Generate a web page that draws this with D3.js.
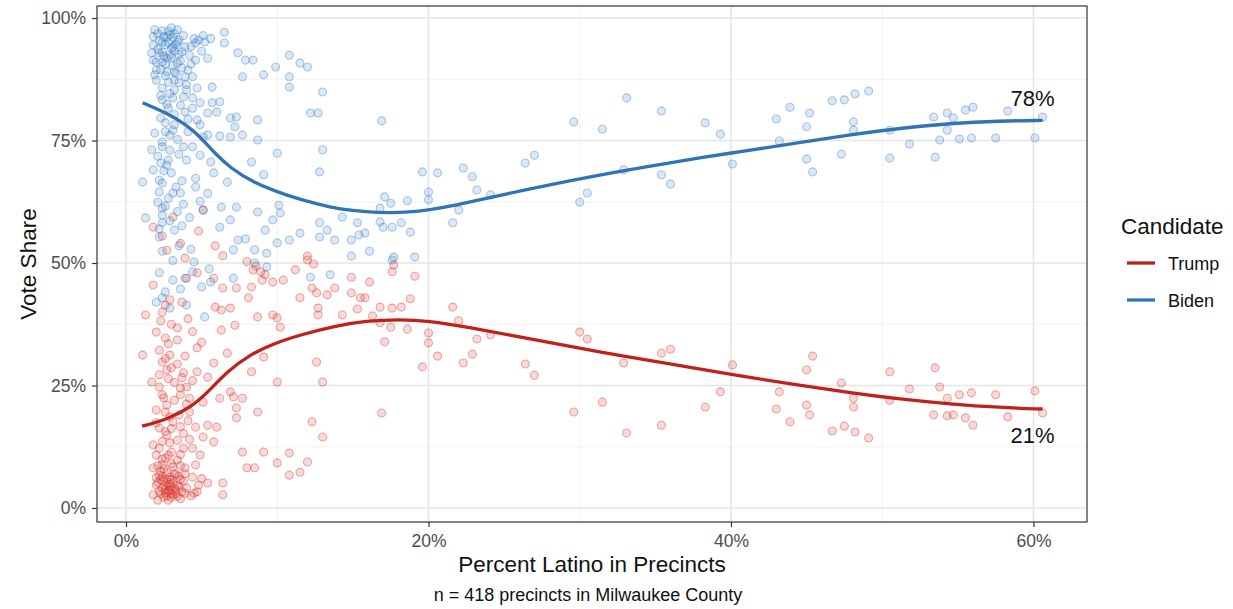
<!DOCTYPE html>
<html><head><meta charset="utf-8">
<script src="https://cdn.jsdelivr.net/npm/d3@7"></script>
<style>
body{margin:0;background:#fff;}
text{font-family:"Liberation Sans",Arial,Helvetica,sans-serif;}
</style>
</head><body>
<svg id="chart" width="1233" height="609"></svg>
<script>
// ---------- data ----------
const candidates = ["Trump", "Biden"];
const xTicks = [0, 20, 40, 60];
const xMinor = [10, 30, 50];
const yTicks = [0, 25, 50, 75, 100];
const yMinor = [12.5, 37.5, 62.5, 87.5];
const xTitle = "Percent Latino in Precincts";
const yTitle = "Vote Share";
const caption = "n = 418 precincts in Milwaukee County";
const legendTitle = "Candidate";

// [percent Latino, Biden vote share %]
const bidenPoints = [
[1.9,97.6],[3.0,98.0],[2.7,96.1],[2.4,95.1],[3.4,95.1],[4.8,95.5],[5.2,95.1],[4.6,94.9],[1.8,94.5],[3.1,94.1],[3.9,94.1],[6.5,97.1],[6.5,94.9],
[1.7,92.9],[2.2,92.9],[2.9,92.4],[3.7,93.1],[1.8,91.4],[2.4,91.0],[3.4,90.8],[4.6,91.4],[5.4,91.8],[7.4,92.9],[7.9,91.4],[8.4,91.4],[10.8,92.4],
[11.5,90.8],[12.0,90.0],[9.9,90.0],[9.1,88.4],[7.7,88.0],[2.0,89.4],[2.7,89.0],[3.2,89.0],[4.1,89.4],[2.0,87.3],[3.2,87.3],[3.9,88.0],[4.4,88.0],
[2.4,85.7],[3.2,85.3],[4.0,85.3],[4.7,85.7],[5.7,85.9],[10.8,88.0],[10.8,85.9],[13.0,84.9],[2.4,83.3],[3.1,83.7],[3.8,83.9],[4.4,83.7],[4.9,82.7],
[5.7,82.7],[6.2,82.9],[2.8,81.6],[4.4,81.6],[5.4,80.6],[6.0,80.8],[12.2,80.6],[12.7,80.6],[7.3,79.8],[6.9,79.6],[8.7,79.2],[2.6,78.6],[3.2,78.2],
[4.7,79.2],[4.9,78.2],[7.2,77.8],[7.7,76.1],[1.9,76.5],[2.9,76.1],[2.4,74.7],[3.1,77.1],[3.8,73.7],[4.4,73.7],[5.1,75.7],[5.4,76.1],[6.2,75.9],
[6.9,75.7],[8.7,75.1],[10.0,72.4],[13.0,73.1],[1.7,73.1],[2.4,73.7],[4.9,72.0],[2.8,71.0],[4.0,71.0],[5.6,70.6],[8.3,70.6],[12.8,68.6],[1.8,69.0],
[2.7,70.0],[5.8,68.4],[2.2,66.9],[2.4,66.3],[1.1,66.5],[4.6,67.3],[4.6,65.5],[6.7,66.5],[9.1,68.0],[2.2,64.5],[3.1,64.3],[3.6,64.3],[2.1,62.4],
[2.4,61.2],[5.1,60.8],[6.3,61.4],[7.3,61.4],[8.7,60.4],[10.1,61.8],[1.3,59.2],[2.4,59.8],[2.4,58.2],[6.2,57.3],[6.9,58.8],[9.7,58.8],[10.2,60.2],
[12.8,58.2],[2.2,55.3],[3.2,56.7],[7.4,54.7],[7.9,54.9],[9.2,56.7],[10.8,54.7],[11.5,56.1],[12.8,55.3],[13.3,56.7],[7.1,52.7],[8.5,52.7],[9.3,52.0],
[10.0,54.1],
[3.1,46.5],[3.9,46.9],[4.4,48.2],[5.0,45.1],[5.6,46.1],[2.6,44.1],[2.0,42.0],[2.4,42.9],[2.9,40.8],[4.0,41.4],[5.2,39.0],[8.5,50.0],[9.3,49.2],
[12.2,47.1],[13.5,47.6],[7.1,46.9],
[2.1,96.8],[2.5,96.2],[2.8,97.3],[3.2,96.8],[3.5,95.5],[2.6,94.6],[3.0,93.8],[2.1,93.6],[3.5,92.6],[2.7,91.8],[3.1,90.3],[2.3,89.5],[3.7,89.8],
[2.6,88.2],[3.5,86.8],[2.3,84.2],[4.2,92.4],[4.5,95.8],[5.0,93.2],[2.0,91.0],[1.9,88.4],[2.9,84.6],[3.9,80.8],[3.2,80.3],[2.3,79.6],[4.1,76.8],
[3.4,75.2],[2.1,71.8],[3.0,68.4],[2.5,68.8],[3.7,66.8],[2.8,63.2],[3.4,60.5],[2.9,58.6],[4.2,59.3],[3.5,53.5],[2.4,52.4],[4.3,52.8],[3.1,50.5],
[4.5,50.2],[5.5,48.8],[3.6,44.7],[2.2,48.0],
[2.2,95.4],[2.9,96.6],[3.3,94.6],[3.8,96.4],[2.4,93.0],[3.0,92.0],[3.6,91.3],[2.6,90.6],[3.3,88.6],[2.8,86.9],[4.3,90.6],[4.0,86.4],[3.4,97.6],
[2.4,97.4],[5.6,95.8],[5.1,96.4],[4.3,94.2],[1.8,96.2],[2.7,82.4],[3.6,82.2],[4.1,79.4],[2.6,76.8],[3.5,72.2],[2.9,73.0],[2.3,70.4],[3.3,65.5],
[2.6,61.6],[3.8,62.0],[2.2,57.0],[3.7,57.6],[5.4,64.2],[4.9,62.6],[2.8,95.0],[3.1,96.0],[2.5,92.2],[3.2,93.3],
[16.9,79.0],[29.6,78.8],[31.5,77.3],[33.1,83.7],[35.4,81.0],[19.6,68.6],[20.6,68.4],[22.3,69.4],[22.9,67.6],[23.2,64.9],[24.1,63.9],[26.4,70.4],
[27.0,72.0],[32.9,69.0],[35.4,68.0],[36.0,66.1],[30.0,62.4],[30.5,64.3],[21.6,58.2],[22.0,60.8],[20.0,64.5],[20.0,62.9],[18.6,62.7],[17.1,63.5],
[17.5,62.2],[16.8,61.2],[14.3,59.4],[15.3,58.2],[16.8,58.4],[17.0,57.3],[17.6,57.3],[18.2,58.2],[18.8,56.3],[13.8,54.7],[14.9,54.7],[15.4,55.7],
[15.8,56.1],[16.1,52.4],[14.9,51.4],[17.6,50.6],[17.7,51.2],[19.1,51.2],
[38.3,78.6],[39.3,76.3],[40.1,70.2],[43.0,79.4],[43.9,81.8],[43.2,74.9],[45.2,80.6],[45.0,77.8],[45.0,71.2],[45.4,68.6],[46.7,83.1],[47.5,83.3],
[48.2,84.5],[49.1,85.1],[48.1,78.8],[48.1,77.1],[47.3,72.2],[50.5,71.4],[50.5,77.1],[51.8,74.3],[53.4,79.8],[53.5,71.6],[53.8,75.1],[54.3,77.1],
[54.3,80.6],[54.7,79.6],[55.5,81.2],[56.0,81.8],[55.1,75.3],[55.9,75.5],[57.5,75.5],[58.3,81.0],[60.1,75.5],[60.6,79.8]
];

// [percent Latino, Trump vote share %]
const trumpPoints = [
[1.8,45.5],[4.0,46.9],[4.7,48.0],[5.8,46.9],[6.4,44.9],[7.3,44.9],[8.1,42.9],[8.3,45.1],[9.2,47.6],[8.4,48.6],[9.0,46.5],[9.7,46.1],[10.4,46.5],
[11.2,48.6],[12.0,50.6],[12.3,44.9],[12.6,43.9],[13.3,43.5],[11.5,42.9],[1.3,39.4],[2.4,40.0],[2.6,41.4],[5.9,41.0],[6.3,40.4],[6.9,40.8],[8.7,39.0],
[9.7,39.4],[10.0,38.8],[12.7,40.8],[12.7,39.4],[7.2,37.3],[6.3,36.3],[10.2,36.9],[2.0,35.9],[2.6,34.7],[3.4,34.3],[2.2,32.2],[2.9,31.2],[2.4,29.8],
[4.7,32.7],[6.7,31.6],[1.1,31.2],[2.7,28.2],[3.0,28.6],[9.1,30.8],[12.6,29.8],[5.8,29.6],[8.3,27.8],[10.0,25.7],[13.0,25.7],[1.7,25.7],[2.2,24.7],
[3.8,27.6],[4.7,27.8],[5.4,26.7],[3.6,24.5],[4.0,24.7],[2.4,23.1],[3.6,23.1],[4.2,22.4],[5.1,21.6],[6.2,22.4],[7.1,22.7],[7.7,22.4],[6.9,23.7],
[8.7,19.6],[7.3,20.4],[2.0,20.0],[2.7,21.0],[4.2,19.6],[4.6,16.5],[5.4,16.9],[6.0,16.5],[7.3,18.4],[3.1,17.6],[2.2,16.3],[2.7,14.9],[12.3,17.6],
[13.0,14.5],[5.1,14.5],[5.8,13.5],[1.8,12.9],[2.9,13.3],[3.8,12.2],[4.4,12.2],[7.7,11.4],[9.1,11.4],[10.8,11.2],[2.0,10.8],[2.6,10.2],[3.4,9.8],
[4.9,10.8],[1.8,8.2],[2.4,8.8],[3.1,8.4],[3.9,8.2],[2.2,6.7],[2.9,6.3],[4.4,6.3],[8.0,8.2],[8.5,8.2],[10.0,9.2],[10.8,6.7],[11.5,7.3],[12.0,9.4],
[6.4,5.1],[2.0,4.7],[2.4,4.1],[2.9,3.7],[3.4,4.7],[4.0,4.1],[4.8,4.7],[5.4,5.1],[1.8,2.7],[2.6,3.1],[3.1,2.7],[3.7,3.3],[6.4,2.7],[4.7,3.3],
[2.8,1.6],[2.1,1.6],
[2.3,5.8],[2.6,4.6],[2.9,5.2],[3.2,4.0],[2.5,2.2],[3.0,3.0],[3.4,2.4],[2.2,3.4],[3.6,5.8],[2.0,6.2],[2.7,7.2],[3.3,6.8],[3.9,7.0],[2.4,10.0],
[3.0,11.4],[2.2,12.2],[3.4,13.8],[2.6,15.6],[3.8,15.2],[4.2,14.0],[2.9,18.6],[3.5,19.0],[4.0,21.2],[2.5,22.5],[3.2,25.6],[2.8,26.4],[4.4,26.0],
[3.4,29.4],[2.6,30.5],[3.9,31.0],[4.4,36.0],[5.0,33.8],[3.0,37.5],[2.3,38.2],[4.5,3.0],[5.0,6.0],[4.6,8.8],[2.5,5.5],[2.8,4.8],[3.0,5.8],
[3.3,3.5],[2.7,2.5],[3.5,6.5],[2.3,7.5],[3.2,7.0],[2.6,3.8],[3.0,2.2],[3.8,5.5],[2.1,5.2],[3.6,1.9],[4.3,2.5],
[2.4,6.4],[2.7,5.9],[3.1,5.0],[2.9,4.3],[3.5,4.4],[2.3,2.9],[2.8,3.4],[3.3,2.9],[3.9,3.0],[2.5,8.0],[3.0,9.0],[3.6,8.6],[2.1,8.6],[2.8,10.8],
[3.6,10.9],[2.4,13.6],[3.0,16.2],[2.0,17.4],[3.6,16.6],[4.1,17.8],[2.6,19.6],[3.2,22.0],[2.2,27.2],[3.7,26.6],[2.8,33.5],[3.4,36.8],[4.1,38.6],
[2.9,42.5],[3.7,42.0],
[1.8,57.3],[2.4,55.5],[3.1,59.4],[3.6,54.0],[5.1,60.8],[4.8,56.5],[5.9,53.5],[2.7,52.6],[3.9,51.0],[6.4,51.5],[8.0,50.3],[8.6,49.4],[8.9,48.2],
[12.0,51.4],[12.4,49.8],
[16.9,19.4],[29.6,19.6],[31.5,21.6],[33.1,15.3],[35.4,16.9],[19.6,28.8],[20.6,31.0],[22.3,29.6],[22.9,31.4],[23.2,34.5],[24.1,35.3],[26.4,29.4],
[27.0,27.1],[32.9,29.6],[35.4,31.6],[36.0,32.4],[30.0,35.9],[30.5,34.5],[21.6,41.0],[22.0,38.2],[20.0,33.7],[20.0,35.7],[18.6,36.5],[17.1,33.9],
[17.5,36.9],[16.8,37.8],[14.3,39.4],[15.3,40.6],[16.8,41.0],[17.6,40.8],[18.2,41.0],[18.8,42.7],[13.8,44.9],[14.9,43.9],[15.8,42.9],[16.1,46.1],
[14.9,47.1],[17.6,48.2],[17.7,49.6],[19.1,47.3],[15.5,42.9],[16.3,39.2],
[38.3,20.6],[39.3,23.7],[40.1,29.2],[43.0,20.2],[43.9,17.6],[43.2,23.7],[45.2,19.0],[45.0,21.0],[45.0,28.2],[45.4,31.0],[46.7,15.7],[47.5,16.7],
[48.2,15.5],[49.1,14.3],[48.1,20.6],[48.1,22.4],[47.3,25.5],[50.5,27.8],[50.5,22.0],[51.8,24.3],[53.4,19.0],[53.5,28.6],[53.8,24.7],[54.3,22.4],
[54.3,18.8],[54.7,19.0],[55.5,18.4],[56.0,16.9],[55.1,23.1],[55.9,23.5],[57.5,23.1],[58.3,18.6],[60.1,23.9],[60.6,19.4]
];

// smoothed (loess) fit curves
const trumpFit = [
[1.06,16.7],[2.7,18.0],[4.4,20.8],[5.4,23.6],[6.7,27.9],[8.2,31.3],[9.7,33.5],[11.5,35.3],[13.7,37.1],[15.9,38.2],[18.1,38.5],[20.0,38.2],
[22.5,37.0],[26.9,34.4],[31.3,31.8],[35.8,29.5],[40.1,27.2],[44.6,25.0],[47.9,23.5],[51.2,22.2],[54.5,21.2],[57.8,20.5],[60.6,20.2]
];
const bidenFit = [
[1.1,82.7],[2.7,80.6],[4.0,78.2],[4.9,75.8],[5.8,72.6],[6.9,69.4],[8.4,66.4],[10.6,63.8],[12.8,61.9],[14.1,61.0],[15.9,60.4],[17.5,60.2],
[19.4,60.5],[21.0,61.3],[22.5,62.3],[26.9,65.3],[31.3,68.0],[35.8,70.4],[40.1,72.5],[44.6,74.6],[47.9,76.2],[51.2,77.5],[54.5,78.5],[57.8,79.0],[60.6,79.1]
];
const endLabels = ["78%", "21%"];

// ---------- drawing ----------
const W = 1233, H = 609;
const panel = {left: 97, top: 6, right: 1087, bottom: 522};
const lineColor = {Trump: "#c0211b", Biden: "#2f74b5"};
const pointColor = {Trump: "#d8342c", Biden: "#3a7dc2"};

const x = d3.scaleLinear().domain([-1.917, 63.54]).range([panel.left, panel.right]);
const y = d3.scaleLinear().domain([-2.857, 102.45]).range([panel.bottom, panel.top]);

const svg = d3.select("#chart");
svg.append("rect").attr("width", W).attr("height", H).attr("fill", "#fff");

const grid = svg.append("g");
grid.selectAll(".xmin").data(xMinor).enter().append("line")
  .attr("x1", d => x(d)).attr("x2", d => x(d)).attr("y1", panel.top).attr("y2", panel.bottom)
  .attr("stroke", "#f0f0f0").attr("stroke-width", 0.9);
grid.selectAll(".ymin").data(yMinor).enter().append("line")
  .attr("y1", d => y(d)).attr("y2", d => y(d)).attr("x1", panel.left).attr("x2", panel.right)
  .attr("stroke", "#f0f0f0").attr("stroke-width", 0.9);
grid.selectAll(".xmaj").data(xTicks).enter().append("line")
  .attr("x1", d => x(d)).attr("x2", d => x(d)).attr("y1", panel.top).attr("y2", panel.bottom)
  .attr("stroke", "#e5e5e5").attr("stroke-width", 1.6);
grid.selectAll(".ymaj").data(yTicks).enter().append("line")
  .attr("y1", d => y(d)).attr("y2", d => y(d)).attr("x1", panel.left).attr("x2", panel.right)
  .attr("stroke", "#e5e5e5").attr("stroke-width", 1.6);

// points
const series = {Trump: trumpPoints, Biden: bidenPoints};
candidates.forEach(c => {
  svg.append("g").selectAll("circle").data(series[c]).enter().append("circle")
    .attr("cx", d => x(d[0])).attr("cy", d => y(d[1])).attr("r", 4)
    .attr("fill", pointColor[c]).attr("fill-opacity", 0.19)
    .attr("stroke", pointColor[c]).attr("stroke-opacity", 0.4).attr("stroke-width", 1.1);
});

// fit lines
const line = d3.line().x(d => x(d[0])).y(d => y(d[1])).curve(d3.curveBasis);
const fits = {Trump: trumpFit, Biden: bidenFit};
candidates.forEach(c => {
  svg.append("path").datum(fits[c]).attr("d", line)
    .attr("fill", "none").attr("stroke", lineColor[c]).attr("stroke-width", 3.3)
    .attr("stroke-linecap", "butt");
});

// end labels
const lastB = bidenFit[bidenFit.length - 1], lastT = trumpFit[trumpFit.length - 1];
svg.append("text").attr("x", x(lastB[0]) - 10).attr("y", y(lastB[1]) - 14)
  .attr("text-anchor", "middle").attr("font-size", 22).attr("fill", "#111").text(endLabels[0]);
svg.append("text").attr("x", x(lastT[0]) - 10).attr("y", y(lastT[1]) + 34)
  .attr("text-anchor", "middle").attr("font-size", 22).attr("fill", "#111").text(endLabels[1]);

// panel border
svg.append("rect").attr("x", panel.left).attr("y", panel.top)
  .attr("width", panel.right - panel.left).attr("height", panel.bottom - panel.top)
  .attr("fill", "none").attr("stroke", "#333").attr("stroke-width", 1.2);

// axes
const xAxis = svg.append("g").attr("transform", `translate(0,${panel.bottom})`)
  .call(d3.axisBottom(x).tickValues(xTicks).tickFormat(d => d + "%").tickSize(5).tickSizeOuter(0).tickPadding(8));
const yAxis = svg.append("g").attr("transform", `translate(${panel.left},0)`)
  .call(d3.axisLeft(y).tickValues(yTicks).tickFormat(d => d + "%").tickSize(5).tickSizeOuter(0).tickPadding(6));
[xAxis, yAxis].forEach(a => {
  a.select(".domain").remove();
  a.selectAll(".tick line").attr("stroke", "#333").attr("stroke-width", 1.2);
  a.selectAll(".tick text").attr("fill", "#4d4d4d").attr("font-size", 17.5)
    .attr("font-family", "'Liberation Sans', Arial, Helvetica, sans-serif");
});

// titles
svg.append("text").attr("x", (panel.left + panel.right) / 2).attr("y", 572)
  .attr("text-anchor", "middle").attr("font-size", 22.5).attr("fill", "#111").text(xTitle);
svg.append("text").attr("transform", `translate(36,${(panel.top + panel.bottom) / 2}) rotate(-90)`)
  .attr("text-anchor", "middle").attr("font-size", 22.5).attr("fill", "#111").text(yTitle);
svg.append("text").attr("x", 588).attr("y", 601)
  .attr("text-anchor", "middle").attr("font-size", 18).attr("fill", "#111").text(caption);

// legend
const lg = svg.append("g").attr("transform", "translate(1121,0)");
lg.append("text").attr("x", 0).attr("y", 234).attr("font-size", 22.5).attr("fill", "#111").text(legendTitle);
candidates.forEach((c, i) => {
  const cy = 263 + i * 37;
  lg.append("line").attr("x1", 6).attr("x2", 34).attr("y1", cy).attr("y2", cy)
    .attr("stroke", lineColor[c]).attr("stroke-width", 3.3);
  lg.append("text").attr("x", 47).attr("y", cy + 6.5).attr("font-size", 18).attr("fill", "#111").text(c);
});
</script>
</body></html>
